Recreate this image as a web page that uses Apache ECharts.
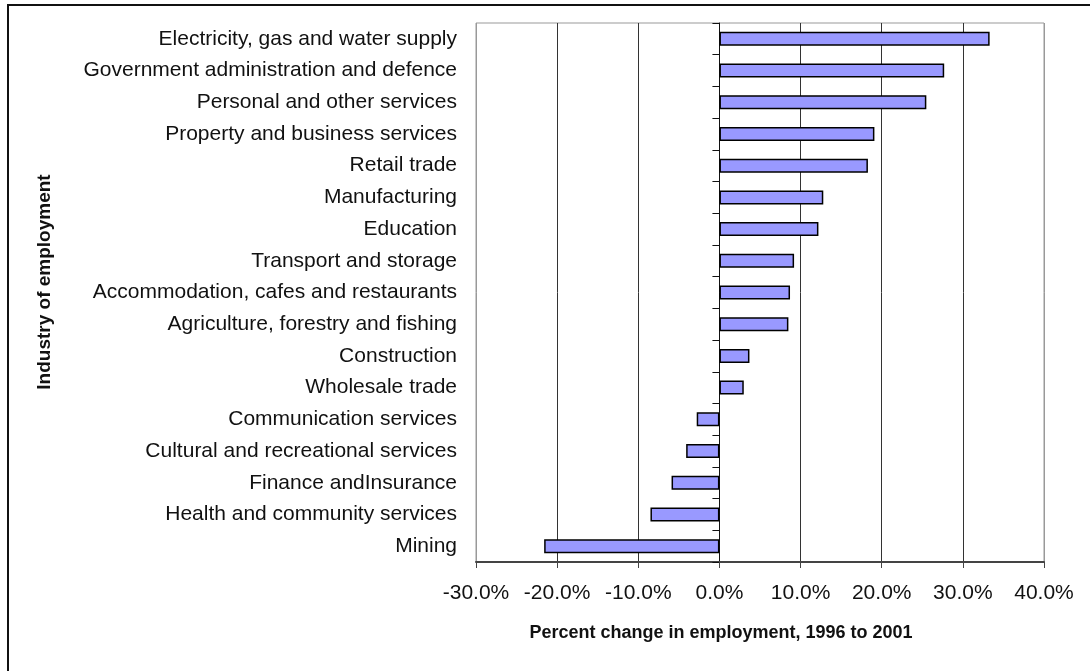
<!DOCTYPE html>
<html>
<head>
<meta charset="utf-8">
<script src="https://cdn.jsdelivr.net/npm/echarts@6/dist/echarts.min.js"></script>
<style>
  html, body { margin: 0; padding: 0; background: #fff; }
  #main { width: 1090px; height: 671px; }
</style>
</head>
<body>
<div id="main"></div>
<script>
// industries, top to bottom
var categories = [
  'Electricity, gas and water supply',
  'Government administration and defence',
  'Personal and other services',
  'Property and business services',
  'Retail trade',
  'Manufacturing',
  'Education',
  'Transport and storage',
  'Accommodation, cafes and restaurants',
  'Agriculture, forestry and fishing',
  'Construction',
  'Wholesale trade',
  'Communication services',
  'Cultural and recreational services',
  'Finance andInsurance',
  'Health and community services',
  'Mining'
];
// percent change 1996 to 2001
var changes = [33.3, 27.7, 25.5, 19.1, 18.3, 12.8, 12.2, 9.2, 8.7, 8.5, 3.7, 3.0, -2.8, -4.1, -5.9, -8.5, -21.6];
var xMin = -30, xMax = 40, xStep = 10;

var font = "'Liberation Sans', Arial, sans-serif";
var chart = echarts.init(document.getElementById('main'));

var option = {
  animation: false,
  backgroundColor: '#fff',
  grid: {
    left: 476, right: 46, top: 23, bottom: 109,
    outerBoundsMode: 'none',
    show: true,
    borderColor: '#999',
    borderWidth: 1
  },
  xAxis: {
    type: 'value',
    min: xMin, max: xMax, interval: xStep,
    axisLine: { show: true, onZero: false, lineStyle: { color: '#444', width: 2 } },
    axisTick: { show: true, length: 6, lineStyle: { color: '#444' } },
    axisLabel: {
      margin: 21,
      fontFamily: font, fontSize: 21, color: '#111',
      formatter: function (v) { return v.toFixed(1) + '%'; }
    },
    splitLine: {
      show: true,
      lineStyle: { color: ['#999', '#333', '#333', '#333', '#333', '#333', '#333', '#999'], width: 1 }
    }
  },
  yAxis: [
    { // labels on the left
      type: 'category',
      data: categories,
      inverse: true,
      position: 'left',
      axisLine: { show: false, onZero: false },
      axisTick: { show: false },
      axisLabel: { margin: 19, fontFamily: font, fontSize: 21, color: '#111' }
    },
    { // axis line with ticks at zero
      type: 'category',
      data: categories,
      inverse: true,
      position: 'left',
      axisLine: { show: true, onZero: true, lineStyle: { color: '#111', width: 1 } },
      axisTick: { show: true, length: 7, lineStyle: { color: '#111' } },
      axisLabel: { show: false },
      splitLine: { show: false }
    }
  ],
  series: [{
    type: 'bar',
    yAxisIndex: 0,
    data: changes,
    barWidth: 14,
    itemStyle: { color: '#9999FF', borderColor: '#000', borderWidth: 1.5 }
  }],
  graphic: [
    {
      type: 'rect',
      shape: { x: 8, y: 5, width: 1200, height: 800 },
      style: { fill: 'none', stroke: '#111', lineWidth: 2 },
      silent: true
    },
    {
      type: 'text',
      x: 45, y: 282,
      rotation: Math.PI / 2,
      style: {
        text: 'Industry of employment',
        font: 'bold 19px ' + font,
        fill: '#111',
        align: 'center',
        verticalAlign: 'middle'
      }
    },
    {
      type: 'text',
      x: 721, y: 633,
      style: {
        text: 'Percent change in employment, 1996 to 2001',
        font: 'bold 18px ' + font,
        fill: '#111',
        align: 'center',
        verticalAlign: 'middle'
      }
    }
  ]
};

chart.setOption(option);
</script>
</body>
</html>
